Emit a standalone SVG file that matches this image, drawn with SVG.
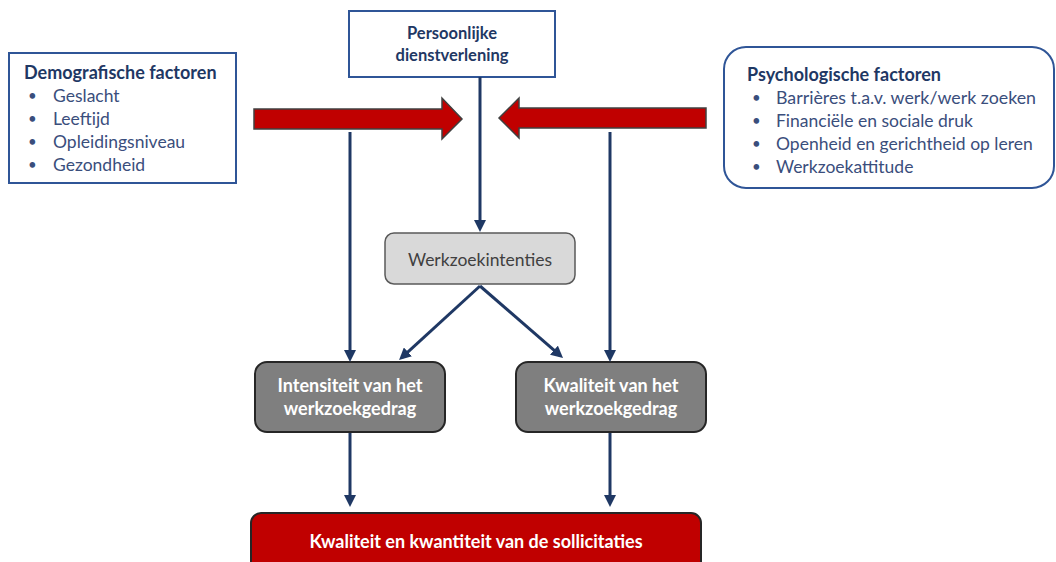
<svg xmlns="http://www.w3.org/2000/svg" width="1056" height="562" viewBox="0 0 1056 562">
<defs>
<style>
.t{font-family:Lato,"Open Sans","Liberation Sans",sans-serif;font-size:17.5px}
.title{fill:#1F3864;font-weight:bold;font-size:18px}
.item{fill:#3A4E7C}
.bul{fill:#3A4E7C;font-size:15px}
.wb{fill:#FFFFFF;font-weight:bold;text-anchor:middle;font-size:18px}
.conn{stroke:#1F3864;stroke-width:3;fill:none;marker-end:url(#ah)}
.frame{fill:#FFFFFF;stroke:#2F5597;stroke-width:2}
.red{fill:#C00000;stroke:#404040;stroke-width:1.5}
</style>
<marker id="ah" markerUnits="userSpaceOnUse" markerWidth="12" markerHeight="12" viewBox="0 0 12 12" refX="8" refY="6" orient="auto">
<path d="M0,0 L12,6 L0,12 z" fill="#1F3864"/>
</marker>
</defs>
<rect width="1056" height="562" fill="#FFFFFF"/>

<g id="demografische">
<rect class="frame" x="9" y="53" width="227" height="130"/>
<text class="t title" x="24" y="79">Demografische factoren</text>
<text class="t bul" x="28" y="101">•</text><text class="t item" x="53" y="102">Geslacht</text>
<text class="t bul" x="28" y="124">•</text><text class="t item" x="53" y="125">Leeftijd</text>
<text class="t bul" x="28" y="147">•</text><text class="t item" x="53" y="148">Opleidingsniveau</text>
<text class="t bul" x="28" y="170">•</text><text class="t item" x="53" y="171">Gezondheid</text>
</g>

<g id="persoonlijke">
<rect class="frame" x="349" y="11" width="206" height="66"/>
<text class="t title" x="452" y="39" text-anchor="middle" style="font-size:16.5px">Persoonlijke</text>
<text class="t title" x="452" y="61" text-anchor="middle" style="font-size:16.5px">dienstverlening</text>
</g>

<g id="psychologische">
<rect class="frame" x="724" y="47" width="330" height="141" rx="22"/>
<text class="t title" x="747" y="81">Psychologische factoren</text>
<text class="t bul" x="752" y="103">•</text><text class="t item" x="776" y="104" textLength="260" lengthAdjust="spacingAndGlyphs">Barrières t.a.v. werk/werk zoeken</text>
<text class="t bul" x="752" y="126">•</text><text class="t item" x="776" y="127">Financiële en sociale druk</text>
<text class="t bul" x="752" y="149">•</text><text class="t item" x="776" y="150">Openheid en gerichtheid op leren</text>
<text class="t bul" x="752" y="172">•</text><text class="t item" x="776" y="173">Werkzoekattitude</text>
</g>

<g id="red-arrows">
<polygon class="red" points="254,109 442,109 442,98 462,119 442,139 442,129 254,129"/>
<polygon class="red" points="706,108 519,108 519,98 499,118 519,138 519,128 706,128"/>
</g>

<g id="werkzoekintenties">
<rect x="385" y="233" width="190" height="51" rx="9" fill="#D9D9D9" stroke="#595959" stroke-width="1.5"/>
<text class="t" x="480" y="266" text-anchor="middle" fill="#404040">Werkzoekintenties</text>
</g>

<g id="intensiteit">
<rect x="255" y="362" width="190" height="70" rx="12" fill="#7F7F7F" stroke="#262626" stroke-width="2"/>
<text class="t wb" x="350" y="392">Intensiteit van het</text>
<text class="t wb" x="350" y="415">werkzoekgedrag</text>
</g>

<g id="kwaliteit">
<rect x="516" y="362" width="190" height="70" rx="12" fill="#7F7F7F" stroke="#262626" stroke-width="2"/>
<text class="t wb" x="611" y="392">Kwaliteit van het</text>
<text class="t wb" x="611" y="415">werkzoekgedrag</text>
</g>

<g id="sollicitaties">
<rect x="251" y="513" width="450" height="62" rx="10" fill="#C00000" stroke="#262626" stroke-width="2"/>
<text class="t wb" x="476" y="548">Kwaliteit en kwantiteit van de sollicitaties</text>
</g>

<g id="connectors">
<line class="conn" x1="480" y1="77" x2="480" y2="228"/>
<line class="conn" x1="350" y1="132" x2="350" y2="358"/>
<line class="conn" x1="610" y1="132" x2="610" y2="358"/>
<line class="conn" x1="480" y1="286" x2="402" y2="357.3"/>
<line class="conn" x1="480" y1="286" x2="560" y2="355.4"/>
<line class="conn" x1="350" y1="433" x2="350" y2="503"/>
<line class="conn" x1="610" y1="433" x2="610" y2="503"/>
</g>
</svg>
